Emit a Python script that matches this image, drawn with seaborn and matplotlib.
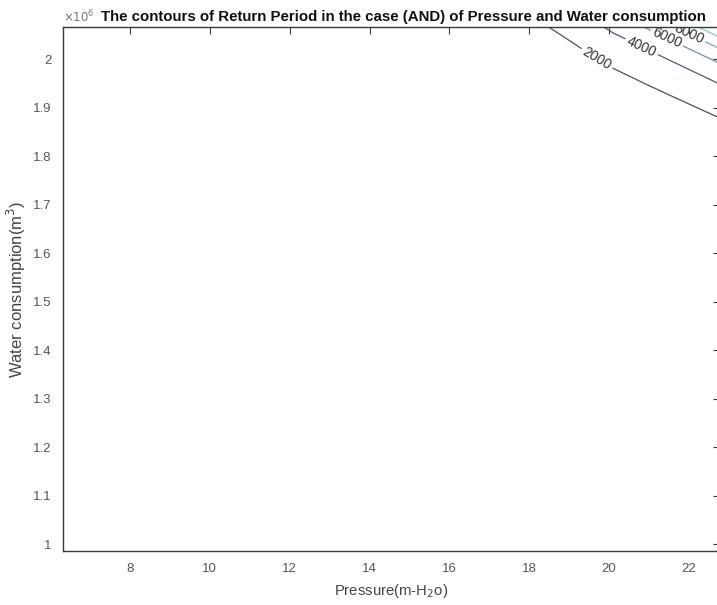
import numpy as np
import matplotlib
matplotlib.use("Agg")
import matplotlib.pyplot as plt
import seaborn as sns

# ---- data ----
# marginal log-return-period contributions (natural log) at pressure nodes
pressure_nodes = [6, 8, 10, 12, 14, 16, 18, 18.5, 19.3, 20.1, 21.6, 22.8]
logT_pressure = [-13.4, -11.3, -9.3, -7.3, -5.4, -3.6, -2.06, -1.789, -1.379, -0.987, -0.420, 0.026]
# marginal log-return-period contributions at water-consumption nodes (x 1e6 m^3)
water_nodes = [0.95, 1.88, 1.95, 2.10]
logT_water = [-1.606, 7.601, 8.294, 9.719]
# contour levels (return period)
levels = [2000, 4000, 6000, 8000, 10000, 12000, 14000, 16000, 18000, 20000]
labelled_levels = [2000, 4000, 6000, 8000]
xticks = [8, 10, 12, 14, 16, 18, 20, 22]
yticks = [1.0, 1.1, 1.2, 1.3, 1.4, 1.5, 1.6, 1.7, 1.8, 1.9, 2.0]
ytick_labels = ["1", "1.1", "1.2", "1.3", "1.4", "1.5", "1.6", "1.7", "1.8", "1.9", "2"]

# ---- styles ----
line_colors = ['#50505a', '#4e5a74', '#6a90aa', '#7aaabb', '#90c4cc',
               '#a8d4d4', '#bcdcc8', '#d4e0b0', '#e4e4a0', '#ecec98']
label_pos = [(19.72, 2.004), (20.82, 2.025), (21.45, 2.043), (22.0, 2.052)]

sns.set_theme(style="white")
plt.rcParams['font.family'] = ['Liberation Sans', 'DejaVu Sans']

fig = plt.figure(figsize=(7.17, 6.05), dpi=100)
ax = fig.add_axes([63 / 717, 54 / 605, (720 - 63) / 717, (551 - 27) / 605])

X, Y = np.meshgrid(np.array(pressure_nodes, float), np.array(water_nodes, float))
LZ = np.array(logT_pressure)[None, :] + np.array(logT_water)[:, None]

cs = ax.contour(X, Y, LZ, levels=np.log(levels), colors=line_colors, linewidths=0.9)
lab_levels = [cs.levels[i] for i, v in enumerate(levels) if v in labelled_levels]
ax.clabel(cs, levels=lab_levels,
          fmt=lambda v: str(int(round(np.exp(v), -2))), fontsize=10, colors='#333333',
          inline=True, inline_spacing=2, manual=label_pos)

ax.set_xlim(6.32, 22.78)
ax.set_ylim(0.986, 2.066)
ax.set_xticks(xticks)
ax.set_xticklabels([str(t) for t in xticks])
ax.set_yticks(yticks)
ax.set_yticklabels(ytick_labels)

for s in ax.spines.values():
    s.set_color('#3a3a3a')
    s.set_linewidth(1.0)
ax.tick_params(direction='in', length=5, width=0.8, top=True, right=True,
               colors='#3a3a3a', labelcolor='#555555', labelsize=9.5)
ax.tick_params(axis='x', pad=9)
ax.tick_params(axis='y', pad=8)

ax.set_xlabel(r'Pressure(m-H$_2$o)', fontsize=10.7, color='#444444', labelpad=5)
ax.set_ylabel(r'Water consumption(m$^3$)', fontsize=12, color='#444444', labelpad=4)
ax.set_title('The contours of Return Period in the case (AND) of Pressure and Water consumption',
             fontsize=10.8, fontweight='bold', color='#111111', pad=4,
             x=(403 - 63) / 657)
ax.text(0.0, 1.004, r'$\times10^{6}$', transform=ax.transAxes, fontsize=8.5,
        color='#777777', ha='left', va='bottom')

fig.savefig('out.png', dpi=100)
